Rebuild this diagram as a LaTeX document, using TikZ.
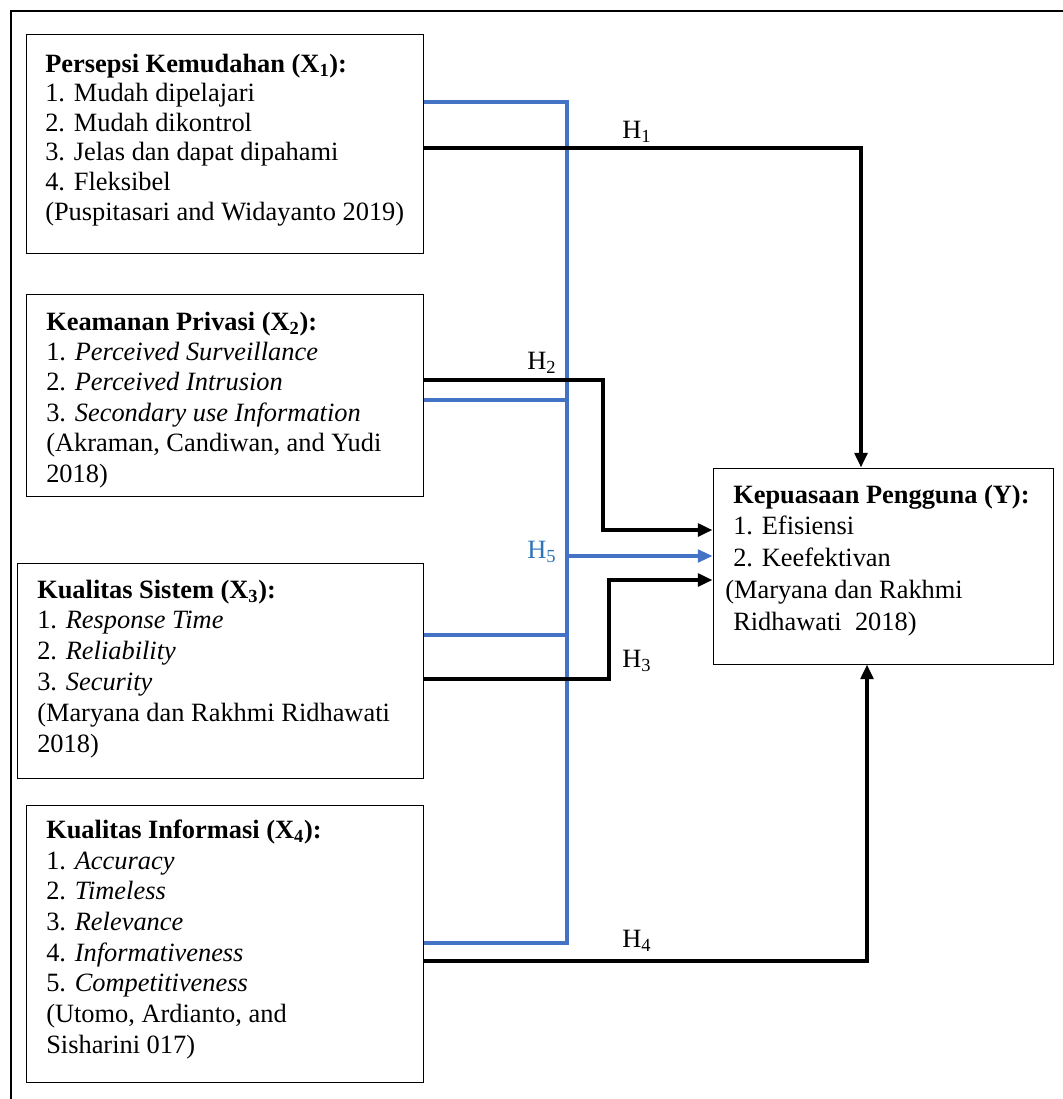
\documentclass[tikz,border=0pt]{standalone}
\usepackage{fontspec}
\setmainfont{Liberation Serif}
\usetikzlibrary{arrows.meta,fit}
\definecolor{lblue}{HTML}{4472C4}
\definecolor{hblue}{HTML}{2E75B6}
\begin{document}
\begin{tikzpicture}[x=0.75pt,y=-0.75pt,
  box/.style={draw, line width=0.75pt, inner sep=0pt, rectangle},
  txt/.style={align=left, inner sep=0pt, anchor=base west, font={\fontsize{19.8}{#1}\selectfont}},
  blk/.style={line width=2.8pt, line join=miter},
  blu/.style={draw=lblue, line width=2.3pt, line join=miter},
  tip/.style={-{Triangle[length=11pt,width=9.5pt]}},
  hl/.style={inner sep=0pt, anchor=base west, font=\fontsize{19.8}{22.5}\selectfont}]
\useasboundingbox (0,0) rectangle (1063,1099);
% outer frame
\draw[line width=1.6pt] (11,1110) -- (11,11) -- (1075,11);

% boxes
\node[box, fit={(26,35) (423,253)}] (x1) {};
\node[box, fit={(26,294) (423,496)}] (x2) {};
\node[box, fit={(17,563) (423,778)}] (x3) {};
\node[box, fit={(26,805) (423,1082)}] (x4) {};
\node[box, fit={(713,468) (1053,664)}] (y) {};

% texts (anchor = baseline of the last line)
\node[txt=22.2pt] (x1t) at (45,220) {\textbf{Persepsi Kemudahan (X\textsubscript{1}):}\\1. Mudah dipelajari\\2. Mudah dikontrol\\3. Jelas dan dapat dipahami\\4. Fleksibel\\(Puspitasari and Widayanto 2019)};
\node[txt=22.8pt] (x2t) at (46,482) {\textbf{Keamanan Privasi (X\textsubscript{2}):}\\1. \textit{Perceived Surveillance}\\2. \textit{Perceived Intrusion}\\3. \textit{Secondary use Information}\\(Akraman, Candiwan, and Yudi\\2018)};
\node[txt=23.1pt] (x3t) at (37,752) {\textbf{Kualitas Sistem (X\textsubscript{3}):}\\1. \textit{Response Time}\\2. \textit{Reliability}\\3. \textit{Security}\\(Maryana\ dan\ Rakhmi\ Ridhawati\\2018)};
\node[txt=23pt] (x4t) at (46,1053) {\textbf{Kualitas Informasi (X\textsubscript{4}):}\\1. \textit{Accuracy}\\2. \textit{Timeless}\\3. \textit{Relevance}\\4. \textit{Informativeness}\\5. \textit{Competitiveness}\\(Utomo, Ardianto, and\\Sisharini 017)};
\node[txt=23.8pt] (yt) at (733,630) {\textbf{Kepuasaan Pengguna (Y):}\\1. Efisiensi\\2. Keefektivan\\\hspace*{-6pt}(Maryana dan Rakhmi\\Ridhawati\ \ 2018)};

% coordinates
\coordinate (bt) at (567,102);
\coordinate (bb) at (567,943);
\coordinate (b2) at (567,400);
\coordinate (b3) at (567,635);
\coordinate (b5) at (567,556);
\coordinate (h1c) at (861,148);
\coordinate (h2a) at (603,380);
\coordinate (h2b) at (603,530);
\coordinate (h3a) at (609,679);
\coordinate (h3b) at (609,580);
\coordinate (h4c) at (867,961);

% blue lines
\draw[blu] (x1.east |- bt) -- (bt) -- (bb) -- (x4.east |- bb);
\draw[blu] (x2.east |- b2) -- (b2);
\draw[blu] (x3.east |- b3) -- (b3);
\draw[blu, tip] (b5) -- (y.west |- b5);

% black arrows
\draw[blk, tip] (x1.east |- h1c) -- (h1c) -- (y.north -| h1c);
\draw[blk, tip] (x2.east |- h2a) -- (h2a) -- (h2b) -- (y.west |- h2b);
\draw[blk, tip] (x3.east |- h3a) -- (h3a) -- (h3b) -- (y.west |- h3b);
\draw[blk, tip] (x4.east |- h4c) -- (h4c) -- (y.south -| h4c);

% labels
\node[hl] (l1) at (622,138) {H\textsubscript{1}};
\node[hl] (l2) at (527,369) {H\textsubscript{2}};
\node[hl, text=hblue] (l5) at (527,558) {H\textsubscript{5}};
\node[hl] (l3) at (622,667) {H\textsubscript{3}};
\node[hl] (l4) at (622,947) {H\textsubscript{4}};
\end{tikzpicture}
\end{document}
